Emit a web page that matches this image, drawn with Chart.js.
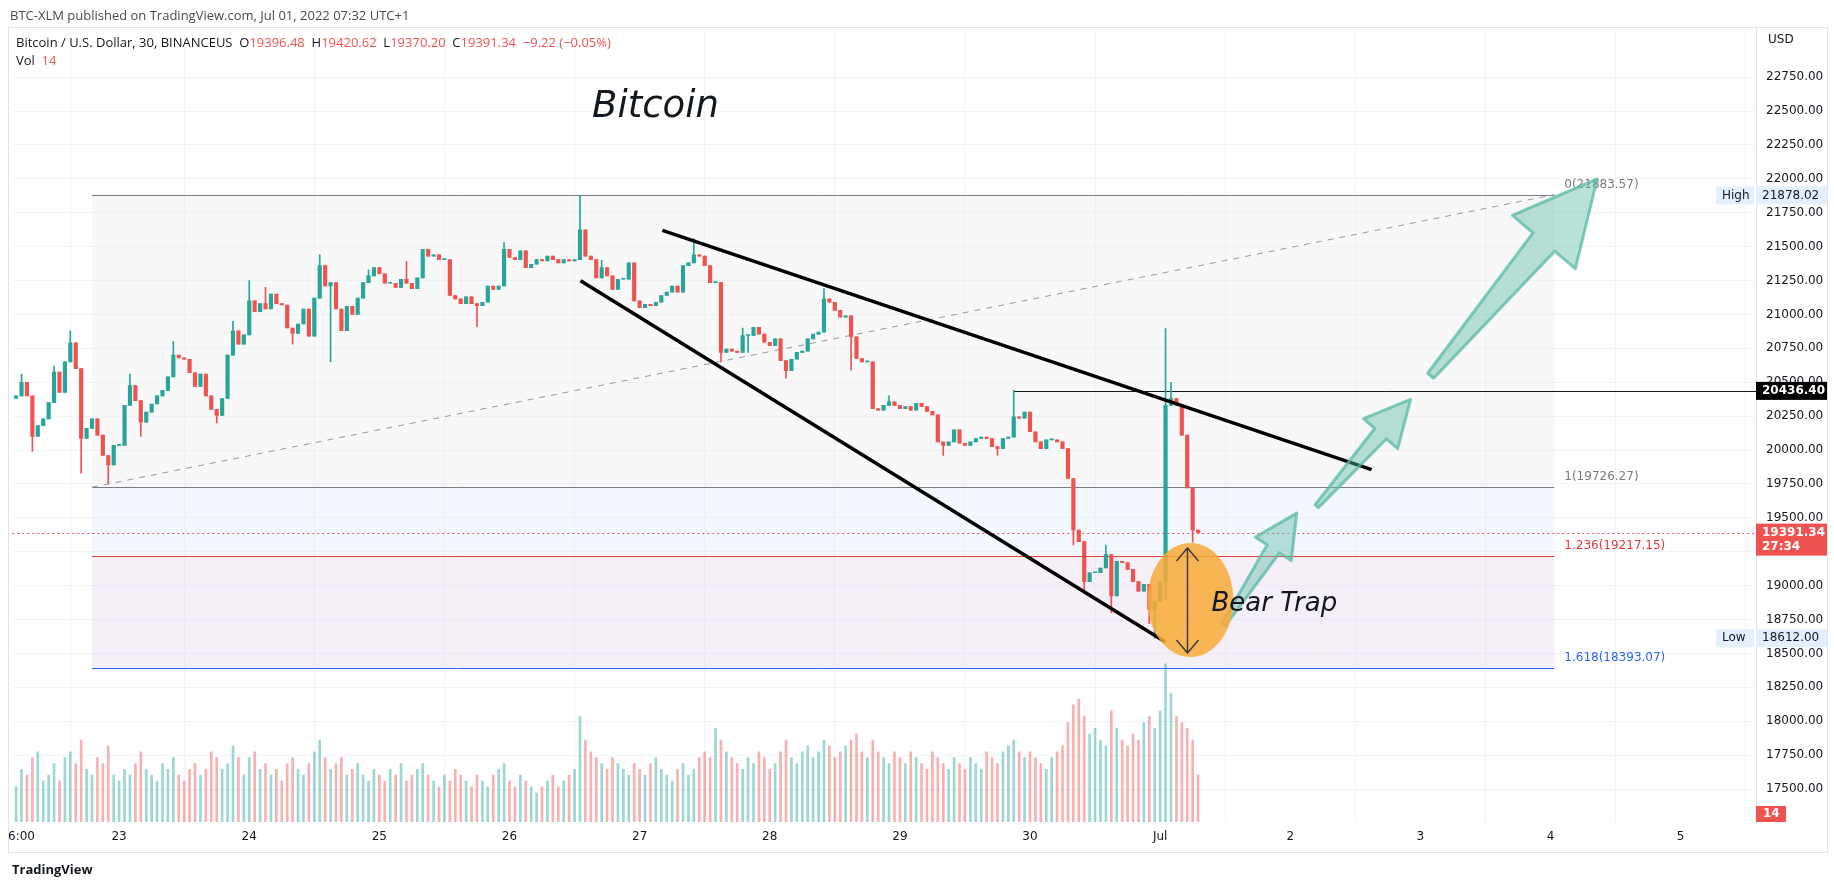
<!DOCTYPE html>
<html><head><meta charset="utf-8">
<script src="https://cdn.jsdelivr.net/npm/chart.js@4.4.1/dist/chart.umd.min.js"></script>
<style>
html,body{margin:0;padding:0;background:#fff;width:1834px;height:882px;overflow:hidden;font-family:"Open Sans","Liberation Sans",sans-serif;}
#wrap{position:absolute;left:0;top:0;width:1834px;height:882px;}
.t{position:absolute;white-space:nowrap;font-size:13px;color:#131722;}
.r{color:#ef5350;}
</style></head><body>
<div id="wrap"><canvas id="c" width="1834" height="882"></canvas></div>
<div class="t" style="left:10px;top:6px;color:#4a4a4a">BTC-XLM published on TradingView.com, Jul 01, 2022 07:32 UTC+1</div>
<div class="t" style="left:16px;top:33px">Bitcoin / U.S. Dollar, 30, BINANCEUS&nbsp;&nbsp;O<span class="r">19396.48</span>&nbsp;&nbsp;H<span class="r">19420.62</span>&nbsp;&nbsp;L<span class="r">19370.20</span>&nbsp;&nbsp;C<span class="r">19391.34</span>&nbsp;&nbsp;<span class="r">−9.22 (−0.05%)</span></div>
<div class="t" style="left:16px;top:51px">Vol&nbsp;&nbsp;<span class="r">14</span></div>
<div class="t" style="left:12px;top:860px;font-weight:bold;font-size:13px">TradingView</div>
<script>
// hours since Jun 22 00:00 (UTC+1); first candle hour
const startHour = 5;
const closes = [
20400,20500,20400,20100,20180,20230,20350,20575,20425,20650,20790,20600,20085,20160,20230,20110,19960,19890,20035,
20035,20330,20475,20365,20205,20280,20340,20400,20440,20540,20700,20680,20670,20570,20470,20560,20400,20300,20255,20380,20700,20880,20780,20850,
21100,21020,21080,21040,21150,21080,21070,20900,20860,20930,21040,20840,21120,21360,21210,21235,21040,20880,21060,21000,21120,21235,21285,21345,21300,
21230,21230,21200,21260,21230,21190,21270,
21480,21430,21440,21405,21405,21140,21115,21080,21130,21080,21065,21090,21210,21185,21210,21480,
21420,21405,21470,21345,21370,21405,21395,21430,21405,21380,21405,21395,21405,21625,21430,21405,21270,21345,21285,21185,21260,21260,21380,21100,
21050,21075,21065,21090,21140,21165,21210,21165,21360,21380,21440,21430,21360,21235,21235,20720,20745,20730,20720,20845,20845,20905,20855,20795,
20770,20820,20660,20585,20670,20720,20730,20820,20855,20870,
21115,21090,21030,20980,20990,20835,20675,20650,20650,20305,20295,20330,20355,20330,
20305,20320,20295,20345,20320,20285,20260,20060,20035,20060,20150,20050,20035,20060,20085,20095,20085,20025,20010,20085,20095,20245,20235,20280,
20135,20060,20010,20075,20075,20060,20010,19790,19410,19325,19030,19095,19095,19130,19230,18925,19180,19170,19120,19030,18960,19010,18825,18885,
19030,20330,20380,20330,20110,19720,19410,19391.34
];
const firstOpen = 20380;
const wickHigh = [[6,20560],[12,20620],[15,20880],[26,20560],[34,20800],[45,20950],[48,21250],[51,21200],[61,21440],[70,21330],[77,21390],[95,21530],[109,21877],[113,21400],[130,21560],[139,20900],[154,21190],[166,20400],[189,20440],[206,19300],[217,20895],[218,20500]];
const wickLow = [[8,19990],[17,19830],[22,19750],[28,20100],[42,20200],[56,20780],[63,20650],[90,20910],[135,20650],[140,20720],[147,20530],[159,20590],[176,19960],[186,19960],[200,19300],[202,18945],[207,18800],[214,18720],[215,18612],[217,18900],[222,19320]];
const volumes = [
30,45,40,55,60,35,40,50,35,55,60,50,70,45,40,55,50,65,40,
35,45,40,50,60,45,40,35,50,45,55,40,35,45,50,40,45,60,55,45,50,65,55,40,
55,60,45,50,40,45,35,50,55,45,40,50,60,70,55,45,50,55,40,45,50,40,35,45,
40,35,45,40,50,35,40,45,50,40,35,30,40,35,45,40,35,30,40,35,30,40,45,50,
35,30,40,35,30,25,30,35,40,30,35,40,45,90,70,60,55,50,45,55,50,45,40,50,
45,40,50,55,45,40,35,45,50,40,45,55,60,55,80,70,60,55,50,45,55,50,60,55,
45,50,60,70,55,50,60,65,55,60,70,65,55,60,65,70,75,60,55,70,60,55,50,60,
55,50,60,55,50,45,60,55,50,45,55,50,45,55,50,45,60,55,50,60,65,70,60,55,
60,55,50,45,55,60,65,85,100,105,90,75,80,70,65,95,80,70,65,75,70,85,90,80,
95,135,110,90,85,80,70,40
];
const xTickHours = [6,24,48,72,96,120,144,168,192,216,240,264,288,312];
const xTickLabels = ["6:00","23","24","25","26","27","28","29","30","Jul","2","3","4","5"];
const fibStart = 19, fibEnd = 288.7;
const fibLevels = [["0",21883.57],["1",19726.27],["1.236",19217.15],["1.618",18393.07]];
const highPrice = 21878.02, lowPrice = 18612.00, lastPrice = 19391.34, hLine = [189, 20436.40];
const upperChannel = [[124.2,21620],[255,19856]];
const lowerChannel = [[109.1,21248],[216.9,18587]];
const arrows = [[[227.7,18711],[241.2,19535]],[[244.9,19586],[262.2,20373]],[[265.9,20548],[296.6,21999]]];
const trapCenter = [221.6,18894];

const opens = closes.map((c,i)=> i===0 ? firstOpen : closes[i-1]);
const hiMap = Object.fromEntries(wickHigh), loMap = Object.fromEntries(wickLow);
const G='#26a69a', R='#ef5350';
const body=[], wick=[], vol=[], bc=[], vc=[];
closes.forEach((c,i)=>{
  const h=startHour+i, o=opens[i];
  let hi=Math.max(o,c), lo=Math.min(o,c);
  if(hiMap[h]) hi=Math.max(hi,hiMap[h]);
  if(loMap[h]) lo=Math.min(lo,loMap[h]);
  body.push({x:h,y:[o, c===o? c+4 : c]});
  wick.push({x:h,y:[lo,hi]});
  bc.push(c>=o?G:R);
  vol.push({x:h,y:volumes[i]});
  vc.push(c>=o?'rgba(38,166,154,0.45)':'rgba(239,83,80,0.45)');
});

const deco = {
  id:'deco',
  beforeDatasetsDraw(ch){
    const {ctx,chartArea:a,scales:{x,y}}=ch;
    const X=v=>x.getPixelForValue(v), Y=v=>y.getPixelForValue(v);
    const x0=X(fibStart), x1=X(fibEnd);
    ctx.save();
    ctx.fillStyle='rgba(235,235,235,0.35)'; ctx.fillRect(x0,Y(21883.57),x1-x0,Y(19726.27)-Y(21883.57));
    ctx.fillStyle='rgba(220,232,253,0.35)'; ctx.fillRect(x0,Y(19726.27),x1-x0,Y(19217.15)-Y(19726.27));
    ctx.fillStyle='rgba(225,210,232,0.35)'; ctx.fillRect(x0,Y(19217.15),x1-x0,Y(18393.07)-Y(19217.15));
    const cols=['#787b86','#787b86','#e53935','#2962ff'];
    ctx.font='12px "DejaVu Sans"'; ctx.textBaseline='middle';
    fibLevels.forEach((l,i)=>{
      ctx.strokeStyle=cols[i]; ctx.lineWidth=1; ctx.beginPath();
      ctx.moveTo(x0,Math.round(Y(l[1]))+0.5); ctx.lineTo(x1,Math.round(Y(l[1]))+0.5); ctx.stroke();
      ctx.fillStyle=cols[i]; ctx.fillText(l[0]+'('+l[1].toFixed(2)+')', x1+10, Y(l[1])-10);
    });
    ctx.setLineDash([6,6]); ctx.strokeStyle='#9598a1'; ctx.beginPath();
    ctx.moveTo(X(fibStart),Y(19726.27)); ctx.lineTo(X(fibEnd),Y(21883.57)); ctx.stroke();
    ctx.setLineDash([]);
    ctx.strokeStyle='#131722'; ctx.beginPath();
    ctx.moveTo(X(hLine[0]),Math.round(Y(hLine[1]))+0.5); ctx.lineTo(a.right,Math.round(Y(hLine[1]))+0.5); ctx.stroke();
    ctx.setLineDash([2,3]); ctx.strokeStyle=R; ctx.beginPath();
    ctx.moveTo(a.left,Math.round(Y(lastPrice))+0.5); ctx.lineTo(a.right,Math.round(Y(lastPrice))+0.5); ctx.stroke();
    ctx.restore();
  },
  afterDatasetsDraw(ch){
    const {ctx,chartArea:a,scales:{x,y}}=ch;
    const X=v=>x.getPixelForValue(v), Y=v=>y.getPixelForValue(v);
    ctx.save();
    ctx.strokeStyle='#000'; ctx.lineWidth=3.5; ctx.lineCap='butt';
    [upperChannel,lowerChannel].forEach(l=>{ctx.beginPath();ctx.moveTo(X(l[0][0]),Y(l[0][1]));ctx.lineTo(X(l[1][0]),Y(l[1][1]));ctx.stroke();});
    arrows.forEach(ar=>{
      const ax=X(ar[0][0]), ay=Y(ar[0][1]), bx=X(ar[1][0]), by=Y(ar[1][1]);
      const L=Math.hypot(bx-ax,by-ay), ux=(bx-ax)/L, uy=(by-ay)/L, nx=-uy, ny=ux;
      const hl=L*0.32, hw=L*0.16, sw0=L*0.015, sw1=L*0.055;
      const hx=bx-ux*hl, hy=by-uy*hl;
      ctx.beginPath();
      ctx.moveTo(ax+nx*sw0,ay+ny*sw0); ctx.lineTo(hx+nx*sw1,hy+ny*sw1); ctx.lineTo(hx+nx*hw,hy+ny*hw);
      ctx.lineTo(bx,by); ctx.lineTo(hx-nx*hw,hy-ny*hw); ctx.lineTo(hx-nx*sw1,hy-ny*sw1); ctx.lineTo(ax-nx*sw0,ay-ny*sw0); ctx.closePath();
      ctx.fillStyle='rgba(100,190,170,0.45)'; ctx.fill();
      ctx.strokeStyle='rgba(90,185,165,0.75)'; ctx.lineWidth=3; ctx.lineJoin='round'; ctx.stroke();
    });
    const cx=X(trapCenter[0]), cy=Y(trapCenter[1]);
    ctx.beginPath(); ctx.ellipse(cx,cy,43,57,0,0,Math.PI*2);
    ctx.fillStyle='rgba(248,170,55,0.85)'; ctx.fill();
    ctx.strokeStyle='#3a3a3a'; ctx.lineWidth=1.5;
    const t=cy-52, b=cy+53, ax2=cx-3;
    ctx.beginPath(); ctx.moveTo(ax2,t); ctx.lineTo(ax2,b);
    ctx.moveTo(ax2-11,t+13); ctx.lineTo(ax2,t); ctx.lineTo(ax2+11,t+13);
    ctx.moveTo(ax2-11,b-13); ctx.lineTo(ax2,b); ctx.lineTo(ax2+11,b-13); ctx.stroke();
    ctx.fillStyle='#131722'; ctx.font='italic 26px "DejaVu Sans"'; ctx.textBaseline='middle';
    ctx.fillText('Bear Trap', cx+21, cy+4);
    ctx.font='italic 37px "DejaVu Sans"';
    ctx.fillText('Bitcoin', 592, 107);
    const ax=a.right;
    const box=(yy,h,bg,fg,txt,bold,x0=ax,w=72)=>{ctx.fillStyle=bg;ctx.fillRect(x0,yy-h/2,w,h);ctx.fillStyle=fg;ctx.font=(bold?'bold ':'')+'12px "DejaVu Sans"';ctx.textAlign='left';ctx.fillText(txt,x0+6,yy);};
    box(Y(highPrice),18,'#e3effd','#131722',highPrice.toFixed(2));
    box(Y(highPrice),18,'#e3effd','#131722','High',false,ax-40,38);
    box(Y(lowPrice),18,'#e3effd','#131722',lowPrice.toFixed(2));
    box(Y(lowPrice),18,'#e3effd','#131722','Low',false,ax-40,38);
    box(Y(hLine[1]),18,'#000','#fff',hLine[1].toFixed(2),true);
    const py=Y(lastPrice);
    ctx.fillStyle=R; ctx.fillRect(ax,py-9,72,32);
    ctx.fillStyle='#fff'; ctx.font='bold 12px "DejaVu Sans"'; ctx.fillText(lastPrice.toFixed(2),ax+6,py); ctx.fillText('27:34',ax+6,py+14);
    ctx.fillStyle=R; ctx.fillRect(ax,a.bottom-16,30,16); ctx.fillStyle='#fff'; ctx.fillText('14',ax+7,a.bottom-8);
    ctx.fillStyle='#131722'; ctx.font='12px "DejaVu Sans"'; ctx.fillText('USD',ax+12,40);
    ctx.strokeStyle='#e0e3eb'; ctx.lineWidth=1; ctx.strokeRect(8.5,27.5,1819,825);
    ctx.restore();
  }
};

new Chart(document.getElementById('c'),{
  type:'bar',
  data:{datasets:[
    {data:vol,backgroundColor:vc,yAxisID:'v',barThickness:2,grouped:false,order:3},
    {data:wick,backgroundColor:bc,yAxisID:'y',barThickness:1,grouped:false,order:2},
    {data:body,backgroundColor:bc,yAxisID:'y',barThickness:3.5,grouped:false,order:1,minBarLength:1}
  ]},
  plugins:[deco],
  options:{
    responsive:false,animation:false,devicePixelRatio:1,
    layout:{padding:{left:10,top:27,right:0,bottom:30}},
    plugins:{legend:{display:false},tooltip:{enabled:false}},
    scales:{
      x:{type:'linear',min:4.3,max:325.9,offset:false,
        afterBuildTicks:s=>{s.ticks=xTickHours.map(v=>({value:v}));},
        afterFit:s=>{s.height=30;},
        ticks:{autoSkip:false,maxRotation:0,color:'#131722',font:{size:12,family:'DejaVu Sans'},padding:8,
          callback:v=>xTickLabels[xTickHours.indexOf(v)]},
        grid:{color:'#f0f3fa',drawTicks:false},border:{display:false}},
      y:{position:'right',min:17257,max:23120,
        afterBuildTicks:s=>{const t=[];for(let v=17500;v<=22750;v+=250)t.push({value:v});s.ticks=t;},
        afterFit:s=>{s.width=78;},
        ticks:{color:'#131722',font:{size:12,family:'DejaVu Sans'},padding:10,callback:v=>v.toFixed(2)},
        grid:{color:'#f0f3fa',drawTicks:false},border:{color:'#e0e3eb'}},
      v:{display:false,min:0,max:679}
    }
  }
});
</script></body></html>
